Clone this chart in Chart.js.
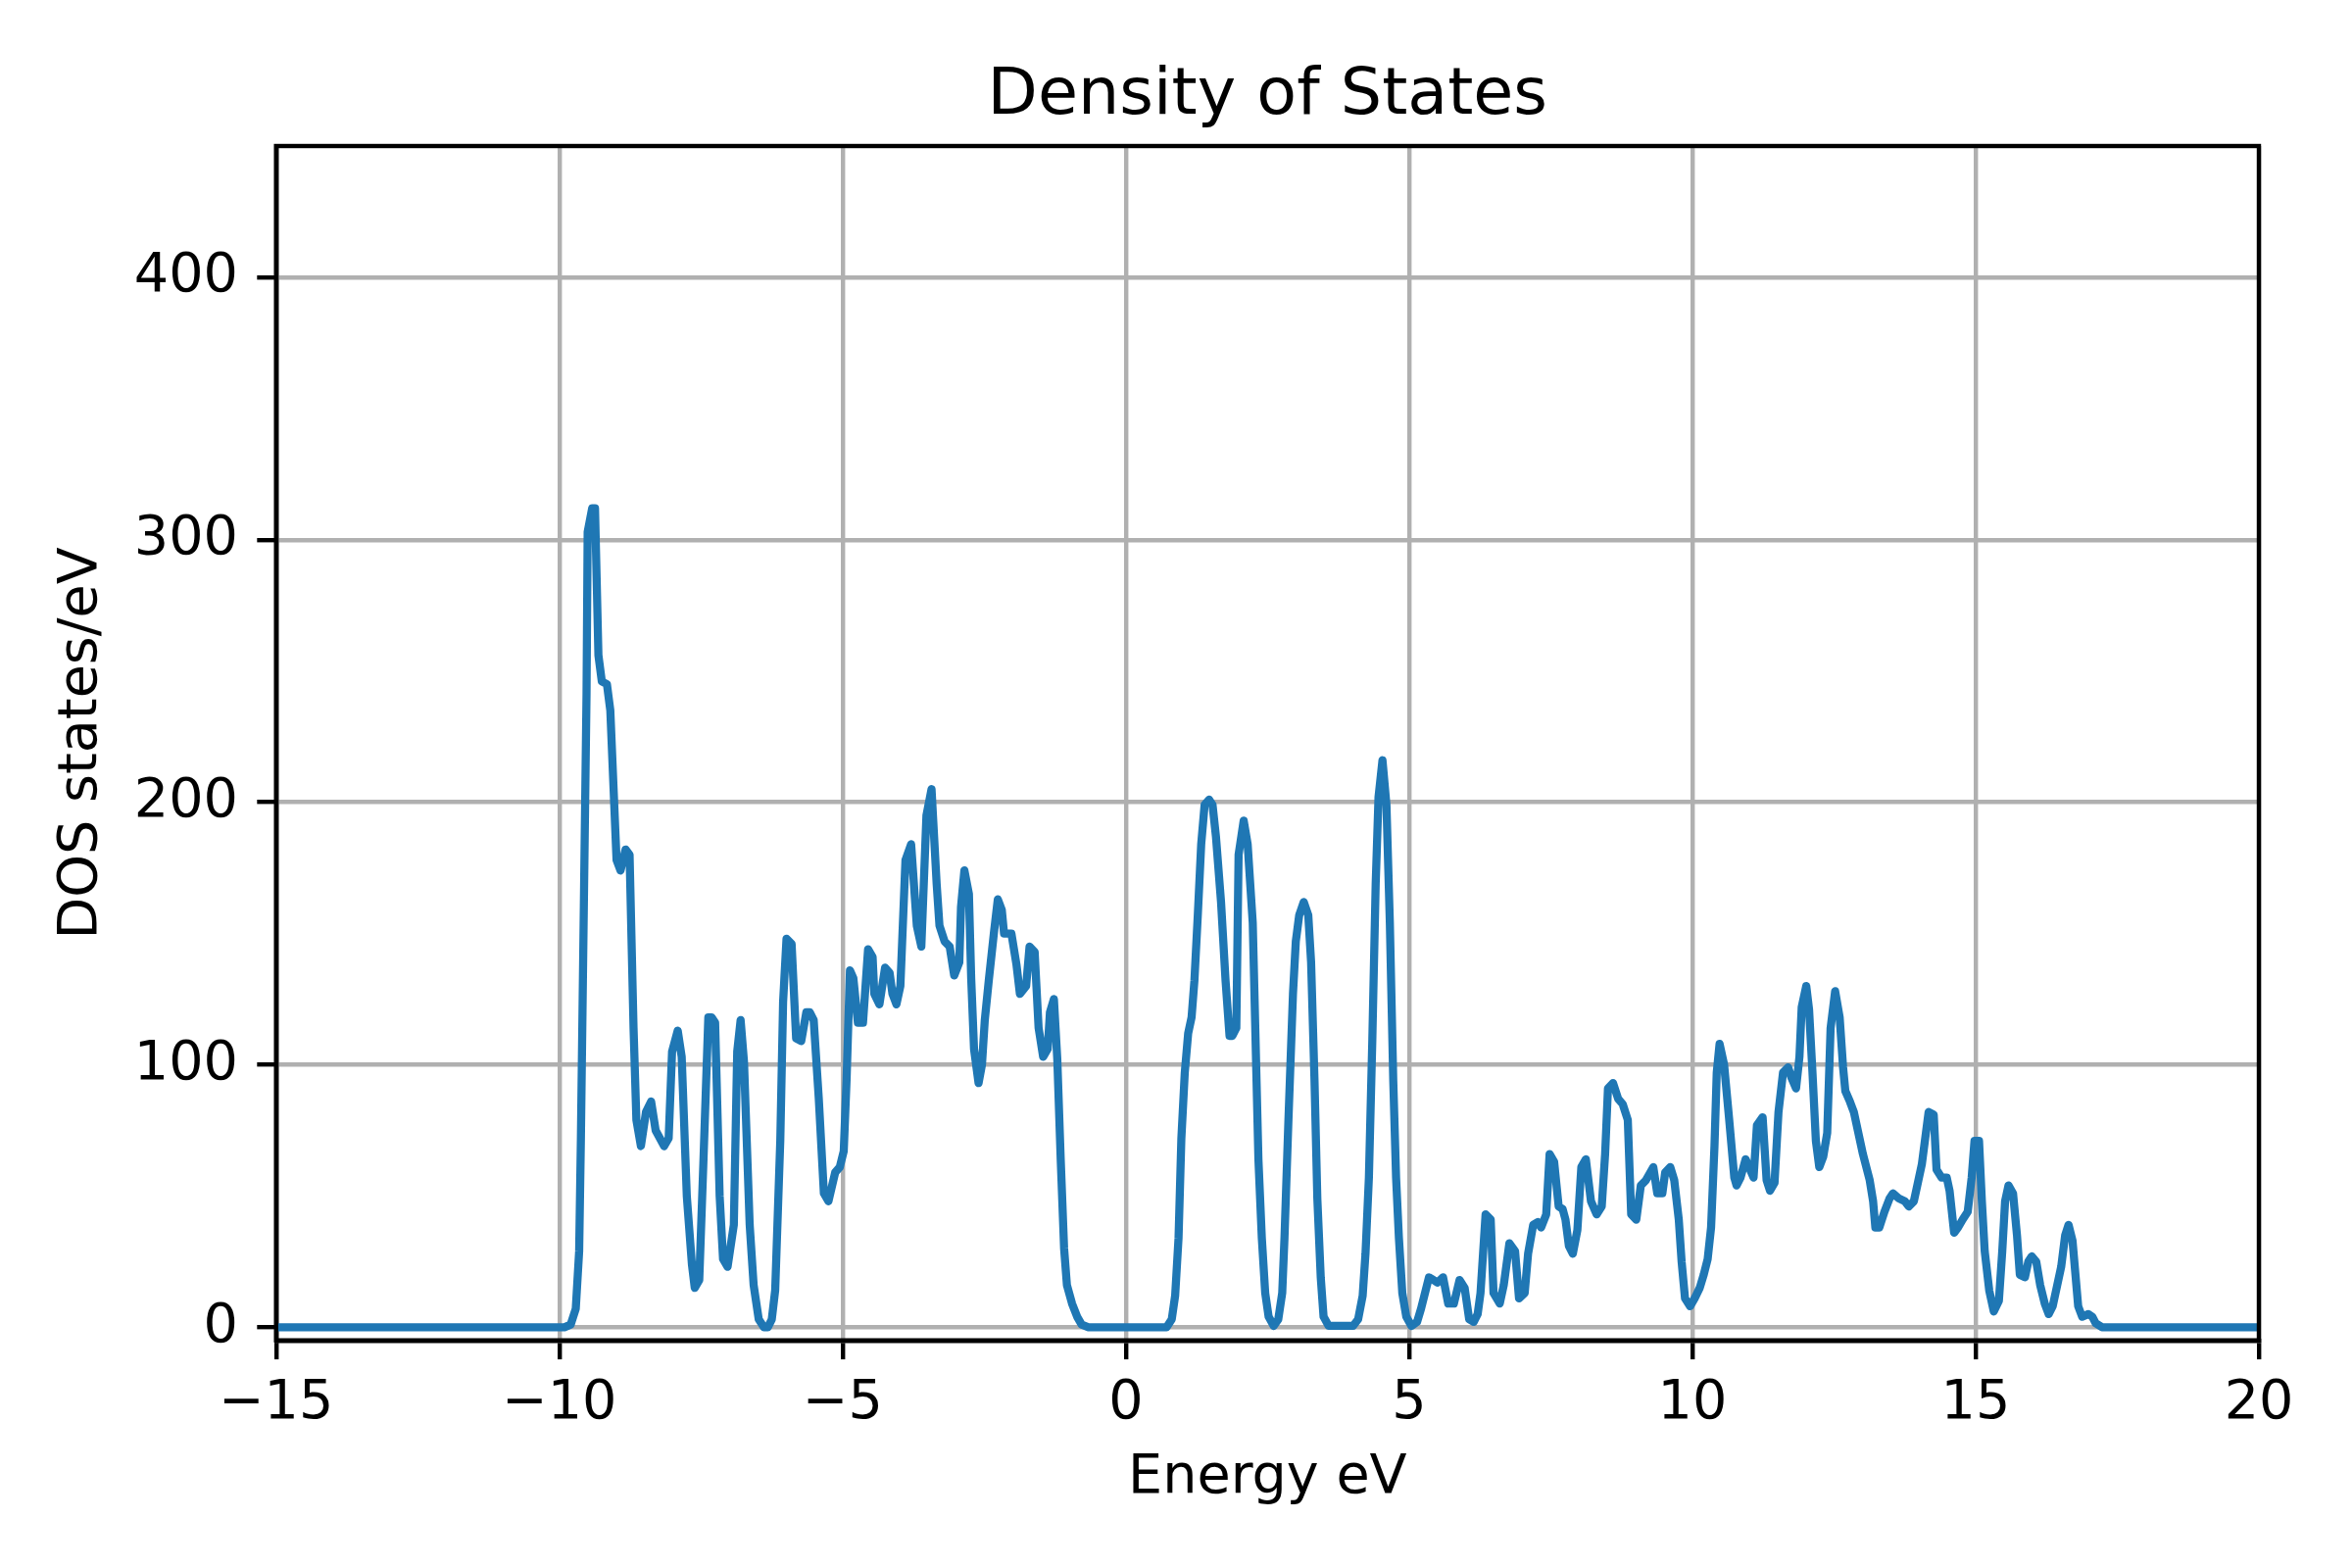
<!DOCTYPE html>
<html>
<head>
<meta charset="utf-8">
<title>Density of States</title>
<script src="https://cdn.jsdelivr.net/npm/chart.js@4.4.1/dist/chart.umd.min.js"></script>
<style>
  html, body { margin: 0; padding: 0; background: #fff; }
  canvas { display: block; }
</style>
</head>
<body>
<canvas id="dos" width="2400" height="1600"></canvas>
<script>
// energy grid (eV) and density of states
const energyEv = [
  -15, -9.91, -9.8, -9.71, -9.65, -9.62, -9.57, -9.52, -9.5, -9.42, -9.37, -9.31, -9.25, -9.16, -9.1,
  -8.99, -8.92, -8.83, -8.76, -8.69, -8.64, -8.56, -8.47, -8.38, -8.3, -8.15, -8.07, -8.01,
  -7.91, -7.84, -7.75, -7.66, -7.61, -7.53, -7.46, -7.37, -7.31, -7.25, -7.17, -7.11, -7.03,
  -6.92, -6.86, -6.8, -6.74, -6.64, -6.57, -6.48, -6.39, -6.32, -6.25, -6.19, -6.1, -6.05,
  -5.99, -5.9, -5.82, -5.73, -5.64, -5.58, -5.51, -5.42, -5.33, -5.25, -5.13, -5.05,
  -4.98, -4.93, -4.87, -4.81, -4.73, -4.64, -4.55, -4.47, -4.44, -4.35, -4.25, -4.17, -4.12, -4.05,
  -3.98, -3.89, -3.79, -3.69, -3.61, -3.52, -3.43, -3.34, -3.29, -3.2, -3.11, -3.03,
  -2.94, -2.91, -2.85, -2.77, -2.73, -2.68, -2.6, -2.54, -2.49, -2.42, -2.33, -2.26, -2.19, -2.15, -2.07, -2.02,
  -1.93, -1.87, -1.76, -1.7, -1.61, -1.54, -1.46, -1.38, -1.34, -1.27, -1.21, -1.15, -1.09, -1.04,
  -0.95, -0.86, -0.78, -0.66, 0.72, 0.81, 0.87, 0.93, 0.98,
  1.04, 1.1, 1.16, 1.21, 1.27, 1.33, 1.39, 1.47, 1.53, 1.59, 1.68, 1.76, 1.83, 1.88, 1.95, 1.99,
  2.08, 2.15, 2.24, 2.29, 2.34, 2.4, 2.46, 2.52, 2.61, 2.69, 2.76, 2.8, 2.87, 2.95,
  3.0, 3.06, 3.14, 3.22, 3.27, 3.33, 3.38, 3.44, 3.49, 3.58,
  4.01, 4.1, 4.18, 4.23, 4.29, 4.35, 4.41, 4.46, 4.53, 4.6, 4.66, 4.72, 4.77, 4.82, 4.88, 4.95,
  5.04, 5.14, 5.21, 5.28, 5.35, 5.43, 5.5, 5.6, 5.69, 5.79, 5.89, 5.98,
  6.06, 6.14, 6.21, 6.26, 6.35, 6.44, 6.49, 6.6, 6.67, 6.77, 6.87, 6.94,
  7.04, 7.1, 7.19, 7.27, 7.33, 7.42, 7.48, 7.56, 7.64, 7.71, 7.76, 7.82, 7.89, 7.97,
  8.04, 8.12, 8.21, 8.31, 8.4, 8.46, 8.51, 8.6, 8.69, 8.77, 8.86, 8.92,
  9.01, 9.09, 9.18, 9.31, 9.38, 9.47, 9.52, 9.61, 9.68, 9.76, 9.81, 9.87, 9.96,
  10.04, 10.13, 10.2, 10.27, 10.33, 10.39, 10.43, 10.48, 10.56, 10.65, 10.74, 10.78, 10.85, 10.94,
  11.02, 11.08, 11.14, 11.24, 11.31, 11.37, 11.45, 11.52, 11.6, 11.69, 11.75, 11.83, 11.89, 11.93,
  12.01, 12.06, 12.12, 12.18, 12.24, 12.31, 12.38, 12.44, 12.52, 12.6, 12.66, 12.7, 12.78, 12.85, 12.93,
  13.01, 13.13, 13.19, 13.23, 13.3, 13.39, 13.48, 13.54, 13.65, 13.75, 13.82, 13.91, 13.97,
  14.05, 14.11, 14.17, 14.26, 14.31, 14.4, 14.49, 14.54, 14.62, 14.69, 14.77, 14.86, 14.93, 14.98,
  15.06, 15.11, 15.16, 15.24, 15.32, 15.41, 15.47, 15.52, 15.58, 15.66, 15.73, 15.78, 15.87, 15.93, 15.99,
  16.07, 16.14, 16.22, 16.29, 16.36, 16.43, 16.51, 16.58, 16.64, 16.71, 16.77, 16.81, 16.88, 16.99,
  17.06, 17.12, 17.23, 20
];
const dosValues = [
  0, 0, 1, 7, 29, 71, 156, 241, 303, 312, 312, 256, 246, 245, 235,
  178, 174, 182, 180, 114, 79, 69, 82, 86, 75, 69, 72, 105,
  113, 103, 50, 24, 15, 18, 61, 118, 118, 116, 50, 26, 23,
  39, 105, 117, 101, 39, 16, 3, 0, 0, 3, 14, 71, 124,
  148, 146, 110, 109, 120, 120, 117, 87, 51, 48, 59, 61,
  67, 94, 136, 133, 116, 116, 144, 141, 127, 123, 137, 135, 127, 123,
  130, 178, 184, 153, 145, 195, 205, 169, 153, 147, 145, 134,
  139, 160, 174, 165, 133, 106, 93, 100, 117, 132, 150, 163, 159, 150, 150, 150,
  138, 127, 130, 145, 143, 114, 103, 106, 120, 125, 102, 64, 30, 16,
  9, 4, 1, 0, 0, 3, 12, 34, 72,
  97, 112, 118, 132, 157, 184, 199, 201, 199, 187, 162, 132, 111, 111, 114, 180,
  193, 184, 154, 109, 64, 34, 13, 4, 0.5, 3, 13, 34, 79, 127,
  147, 157, 162, 157, 139, 94, 49, 19, 4, 0.5,
  0.5, 3, 12, 28, 57, 109, 169, 202, 216, 199, 154, 94, 57, 34, 13, 4,
  0.5, 2, 7, 13, 19, 18, 17, 19, 9, 9, 18, 15,
  3, 2, 5, 13, 43, 41, 13, 9, 16, 32, 29, 11,
  13, 28, 39, 40, 38, 43, 66, 63, 46, 45, 41, 31, 28, 37,
  61, 64, 48, 43, 46, 66, 91, 93, 87, 85, 79, 43,
  41, 54, 56, 61, 51, 51, 59, 61, 56, 41, 25, 11, 8,
  11, 15, 20, 26, 38, 69, 97, 108, 100, 79, 57, 54, 57, 64,
  60, 57, 77, 80, 56, 52, 55, 82, 97, 99, 95, 91, 103, 122,
  130, 121, 97, 71, 61, 65, 74, 114, 128, 118, 99, 90, 86, 82, 74,
  66, 56, 48, 38, 38, 44, 49, 51, 49, 48, 46, 48, 54,
  62, 72, 82, 81, 60, 57, 57, 52, 36, 38, 41, 44, 57, 71,
  71, 48, 29, 14, 6, 10, 29, 48, 54, 51, 35, 20, 19, 25, 27,
  25, 16, 9, 5, 8, 15, 23, 35, 39, 33, 18, 8, 4, 5,
  4, 1.5, 0, 0
];
const xTicks = [-15, -10, -5, 0, 5, 10, 15, 20];
const yTicks = [0, 100, 200, 300, 400];
const chartTitle = 'Density of States';

const fmt = v => (v < 0 ? '\u2212' + Math.abs(v) : String(v));

// matplotlib-style frame on all four sides, title centred over the axes
const framePlugin = {
  id: 'frame',
  afterDatasetsDraw(chart) {
    const { ctx, chartArea: a } = chart;
    ctx.save();
    ctx.strokeStyle = '#000';
    ctx.lineWidth = 4.4;
    ctx.strokeRect(a.left, a.top, a.right - a.left, a.bottom - a.top);
    ctx.restore();
  },
  afterDraw(chart) {
    const { ctx, chartArea: a } = chart;
    ctx.save();
    ctx.fillStyle = '#000';
    ctx.font = '66.7px "DejaVu Sans"';
    ctx.textAlign = 'center';
    ctx.textBaseline = 'alphabetic';
    ctx.fillText(chartTitle, (a.left + a.right) / 2, a.top - 33.3);
    ctx.restore();
  }
};

Chart.defaults.color = '#000';
Chart.defaults.font.family = 'DejaVu Sans';

const ctx = document.getElementById('dos').getContext('2d');
new Chart(ctx, {
  type: 'line',
  data: {
    datasets: [{
      data: energyEv.map((e, i) => ({ x: e, y: dosValues[i] })),
      borderColor: '#1f77b4',
      borderWidth: 8.3,
      borderJoinStyle: 'round',
      pointRadius: 0,
      tension: 0,
      fill: false
    }]
  },
  options: {
    responsive: false,
    devicePixelRatio: 1,
    animation: false,
    layout: { padding: { top: 149, right: 95, bottom: 0, left: 0 } },
    plugins: {
      legend: { display: false },
      tooltip: { enabled: false },
      title: { display: false }
    },
    scales: {
      x: {
        type: 'linear',
        min: -15,
        max: 20,
        afterBuildTicks: s => { s.ticks = xTicks.map(v => ({ value: v })); },
        afterFit: s => { s.height = 232.3; },
        ticks: { font: { size: 55.6, lineHeight: 1.2 }, padding: 12, maxRotation: 0, callback: v => fmt(v) },
        grid: { color: '#b0b0b0', lineWidth: 4.4, tickColor: '#000', tickWidth: 4.4, tickLength: 19.4 },
        border: { color: '#000', width: 4.4 },
        title: { display: true, text: 'Energy eV', font: { size: 55.6, lineHeight: 1.2 }, padding: { top: 0, bottom: 57.6 } }
      },
      y: {
        min: -5,
        max: 450,
        afterBuildTicks: s => { s.ticks = yTicks.map(v => ({ value: v })); },
        afterFit: s => { s.width = 281.7; },
        ticks: { font: { size: 55.6, lineHeight: 1.2 }, padding: 19.4, callback: v => fmt(v) },
        grid: { color: '#b0b0b0', lineWidth: 4.4, tickColor: '#000', tickWidth: 4.4, tickLength: 19.4 },
        border: { color: '#000', width: 4.4 },
        title: { display: true, text: 'DOS states/eV', font: { size: 55.6, lineHeight: 1.2 }, padding: { top: 50.6, bottom: 0 } }
      }
    }
  },
  plugins: [framePlugin]
});
</script>
</body>
</html>
